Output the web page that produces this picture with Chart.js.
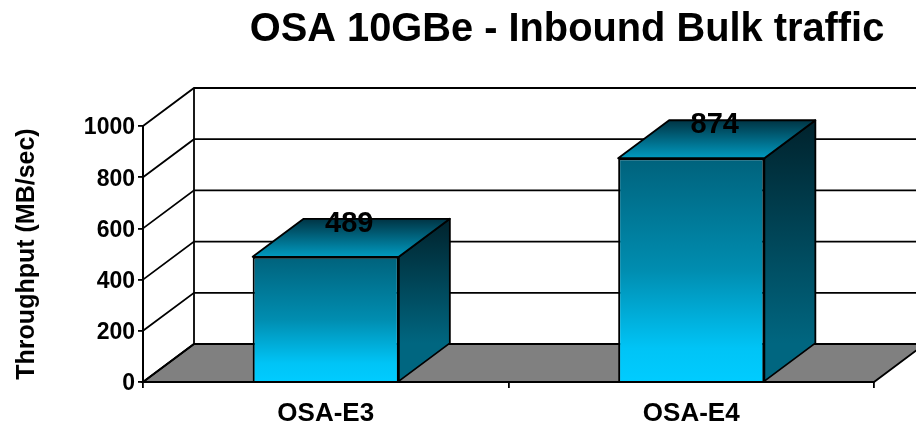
<!DOCTYPE html>
<html><head><meta charset="utf-8">
<style>html,body{margin:0;padding:0;background:#fff}canvas{display:block}</style>
<script src="https://cdn.jsdelivr.net/npm/chart.js@4"></script>
</head><body><canvas id="c" width="916" height="422"></canvas>
<script>
const categories = ["OSA-E3", "OSA-E4"];
const throughput = [489, 874];
const chartTitle = "OSA 10GBe - Inbound Bulk traffic";
const yAxisTitle = "Throughput (MB/sec)";
const FONT = '"Liberation Sans", Arial, sans-serif';
const DX = 51, DY = -38;

function grad(ctx, y0, y1, stops) {
  const g = ctx.createLinearGradient(0, y0, 0, y1);
  stops.forEach(s => g.addColorStop(s[0], s[1]));
  return g;
}
const threeD = {
  id: 'threeD',
  beforeDatasetsDraw(chart) {
    const {ctx, scales: {x, y}, chartArea: a} = chart;
    const y0 = y.getPixelForValue(0);
    ctx.save();
    ctx.fillStyle = '#808080';
    ctx.strokeStyle = '#000';
    ctx.lineWidth = 1.8;
    ctx.beginPath();
    ctx.moveTo(a.left, y0); ctx.lineTo(a.left + DX, y0 + DY);
    ctx.lineTo(a.right + DX, y0 + DY); ctx.lineTo(a.right, y0); ctx.closePath();
    ctx.fill(); ctx.stroke();
    y.ticks.forEach(t => {
      const p = y.getPixelForValue(t.value);
      ctx.beginPath();
      ctx.moveTo(a.left, p); ctx.lineTo(a.left + DX, p + DY); ctx.lineTo(a.right + DX, p + DY);
      ctx.stroke();
    });
    ctx.beginPath();
    ctx.moveTo(a.left + DX, a.top + DY); ctx.lineTo(a.left + DX, y0 + DY);
    ctx.stroke();
    ctx.restore();
  },
  afterDatasetsDraw(chart) {
    const {ctx} = chart;
    const meta = chart.getDatasetMeta(0);
    ctx.save();
    ctx.strokeStyle = '#000';
    ctx.lineWidth = 1.8;
    ctx.lineJoin = 'round';
    meta.data.forEach((b, i) => {
      const l = b.x - b.width / 2, r = b.x + b.width / 2;
      ctx.fillStyle = grad(ctx, b.y + DY, b.base + DY, [[0, '#00222c'], [1, '#006680']]);
      ctx.beginPath();
      ctx.moveTo(r, b.y); ctx.lineTo(r + DX, b.y + DY); ctx.lineTo(r + DX, b.base + DY); ctx.lineTo(r, b.base); ctx.closePath();
      ctx.fill(); ctx.stroke();
      ctx.fillStyle = grad(ctx, b.y + DY, b.y, [[0, '#003444'], [1, '#009ac0']]);
      ctx.beginPath();
      ctx.moveTo(l, b.y); ctx.lineTo(l + DX, b.y + DY); ctx.lineTo(r + DX, b.y + DY); ctx.lineTo(r, b.y); ctx.closePath();
      ctx.fill(); ctx.stroke();
      ctx.fillStyle = '#000';
      ctx.font = 'bold 29px ' + FONT;
      ctx.textAlign = 'center';
      ctx.textBaseline = 'middle';
      ctx.fillText(String(throughput[i]), b.x + DX / 2 - 2, b.y - 33);
    });
    ctx.restore();
  },
  afterDraw(chart) {
    const {ctx} = chart;
    ctx.save();
    ctx.fillStyle = '#000';
    ctx.font = 'bold 39.8px ' + FONT;
    ctx.textAlign = 'center';
    ctx.textBaseline = 'middle';
    ctx.fillText(chartTitle, 567, 30);
    ctx.restore();
  }
};
new Chart(document.getElementById('c'), {
  type: 'bar',
  data: {
    labels: categories,
    datasets: [{
      data: throughput,
      barPercentage: 0.4,
      categoryPercentage: 1,
      borderColor: '#000',
      borderWidth: 2,
      backgroundColor(c) {
        if (c.raw === undefined) return '#00a0c8';
        const yTop = c.chart.scales.y.getPixelForValue(c.raw);
        const yBase = c.chart.scales.y.getPixelForValue(0);
        if (!Number.isFinite(yTop) || !Number.isFinite(yBase)) return '#00a0c8';
        return grad(c.chart.ctx, yTop, yBase, [[0, '#00627c'], [0.5, '#008db0'], [0.85, '#00c4f6'], [1, '#00ccff']]);
      }
    }]
  },
  plugins: [threeD],
  options: {
    responsive: false,
    animation: false,
    layout: {padding: {left: 0, right: 42, top: 126, bottom: 0}},
    plugins: {legend: {display: false}, tooltip: {enabled: false}},
    scales: {
      x: {
        afterFit(s) { s.height = 40; },
        grid: {drawOnChartArea: false, color: '#000', lineWidth: 1.8, tickLength: 6},
        border: {display: true, color: '#000', width: 2},
        ticks: {color: '#000', font: {family: FONT, weight: 'bold', size: 26}, padding: 10, maxRotation: 0}
      },
      y: {
        min: 0, max: 1000,
        afterFit(s) { s.width = 143; },
        grid: {drawOnChartArea: false, color: '#000', lineWidth: 1.8, tickLength: 5},
        border: {display: true, color: '#000', width: 2},
        ticks: {stepSize: 200, color: '#000', font: {family: FONT, weight: 'bold', size: 23}, padding: 3, labelOffset: 2, callback: v => String(v)},
        title: {display: true, text: yAxisTitle, color: '#000', font: {family: FONT, weight: 'bold', size: 25}, padding: {top: 12, bottom: 0}}
      }
    }
  }
});
</script></body></html>
